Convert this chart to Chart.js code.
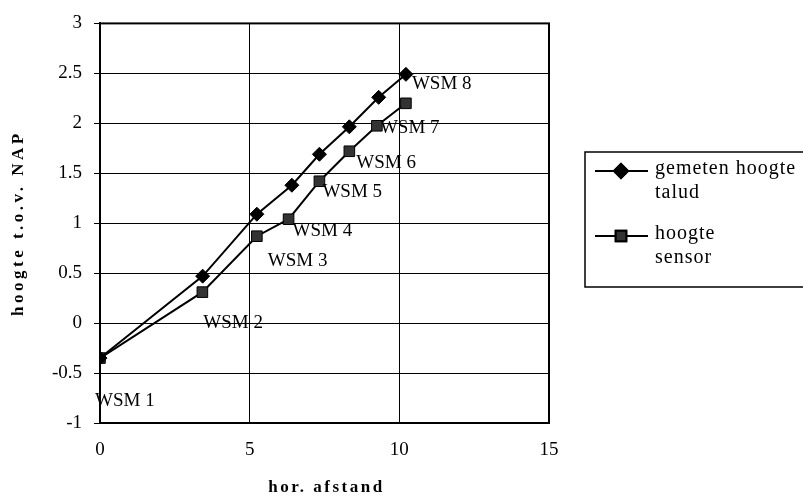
<!DOCTYPE html>
<html>
<head>
<meta charset="utf-8">
<script src="https://cdn.jsdelivr.net/npm/chart.js@4/dist/chart.umd.min.js"></script>
<style>
  html, body { margin: 0; padding: 0; background: #fff; }
  #wrap { width: 803px; height: 499px; position: relative; }
</style>
</head>
<body>
<div id="wrap"><canvas id="plot"></canvas></div>
<script>
// hor. afstand (x) and hoogte t.o.v. NAP (y)
const xTalud = [0, 3.43, 5.24, 6.41, 7.33, 8.33, 9.31, 10.22];
const yTalud = [-0.35, 0.47, 1.09, 1.38, 1.69, 1.965, 2.26, 2.49];
const xSensor = [0, 3.42, 5.24, 6.3, 7.33, 8.33, 9.25, 10.22];
const ySensor = [-0.35, 0.31, 0.87, 1.04, 1.42, 1.72, 1.975, 2.2];
const wsmLabels = ['WSM 1', 'WSM 2', 'WSM 3', 'WSM 4', 'WSM 5', 'WSM 6', 'WSM 7', 'WSM 8'];
const seriesNames = [['gemeten hoogte', 'talud'], ['hoogte', 'sensor']];
const xTitle = 'hor. afstand';
const yTitle = 'hoogte t.o.v. NAP';

const SERIF = '"Liberation Serif", "DejaVu Serif", serif';

// where each WSM label sits relative to its sensor point (px)
const labelShift = [[-5, 43], [1, 31], [11, 25], [4, 12], [3, 11], [7, 12], [3, 2], [6, -19]];

const toPoints = (xs, ys) => xs.map((x, i) => ({x: x, y: ys[i]}));

const extras = {
  id: 'extras',
  afterDraw(chart) {
    const ctx = chart.ctx;
    const a = chart.chartArea;
    ctx.save();
    // plot border
    ctx.strokeStyle = '#000';
    ctx.lineWidth = 2;
    ctx.strokeRect(a.left, a.top, a.right - a.left, a.bottom - a.top);

    // WSM labels at sensor points
    const meta = chart.getDatasetMeta(1);
    ctx.fillStyle = '#000';
    ctx.font = '19px ' + SERIF;
    ctx.textAlign = 'left';
    ctx.textBaseline = 'middle';
    meta.data.forEach((pt, i) => {
      const s = labelShift[i];
      ctx.fillText(wsmLabels[i], pt.x + s[0], pt.y + s[1]);
    });

    // axis titles
    ctx.font = 'bold 17px ' + SERIF;
    ctx.letterSpacing = '2.5px';
    ctx.textAlign = 'center';
    ctx.fillText(xTitle, (a.left + a.right) / 2 + 2, 488);
    ctx.save();
    ctx.translate(19, (a.top + a.bottom) / 2);
    ctx.rotate(-Math.PI / 2);
    ctx.letterSpacing = '3.5px';
    ctx.fillText(yTitle, 0, 0);
    ctx.restore();
    ctx.letterSpacing = '0px';

    // legend
    ctx.lineWidth = 1.5;
    ctx.strokeRect(585, 152, 240, 135);
    ctx.font = '20px ' + SERIF;
    ctx.textAlign = 'left';
    ctx.letterSpacing = '1px';
    const rows = [171, 236];
    rows.forEach((ry, k) => {
      ctx.lineWidth = 2;
      ctx.beginPath();
      ctx.moveTo(595, ry);
      ctx.lineTo(648, ry);
      ctx.stroke();
      const ds = chart.data.datasets[k];
      Chart.helpers.drawPoint(ctx, {
        pointStyle: ds.pointStyle, radius: ds.pointRadius, borderWidth: 1
      }, 621, ry);
      ctx.fillStyle = k === 0 ? '#000' : '#333';
      ctx.strokeStyle = '#000';
      ctx.fill();
      ctx.stroke();
      ctx.fillStyle = '#000';
      ctx.fillText(seriesNames[k][0], 655, ry - 2);
      ctx.fillText(seriesNames[k][1], 655, ry + 22);
    });
    ctx.restore();
  }
};

new Chart(document.getElementById('plot'), {
  type: 'scatter',
  data: {
    datasets: [
      {
        label: seriesNames[0].join(' '),
        data: toPoints(xTalud, yTalud),
        showLine: true,
        borderColor: '#000',
        borderWidth: 2,
        pointStyle: 'rectRot',
        pointRadius: 7,
        pointBackgroundColor: '#000',
        pointBorderColor: '#000',
        pointBorderWidth: 1
      },
      {
        label: seriesNames[1].join(' '),
        data: toPoints(xSensor, ySensor),
        showLine: true,
        borderColor: '#000',
        borderWidth: 2,
        pointStyle: 'rect',
        pointRadius: 7.5,
        pointBackgroundColor: '#333',
        pointBorderColor: '#000',
        pointBorderWidth: 1
      }
    ]
  },
  options: {
    responsive: true,
    maintainAspectRatio: false,
    animation: false,
    layout: { padding: { left: 0, top: 20, right: 254, bottom: 0 } },
    plugins: {
      legend: { display: false },
      tooltip: { enabled: false }
    },
    scales: {
      x: {
        type: 'linear',
        min: 0,
        max: 15,
        afterFit: s => { s.height = 76; },
        ticks: {
          stepSize: 5,
          color: '#000',
          padding: 16,
          font: { family: SERIF, size: 19 }
        },
        grid: { color: '#000', lineWidth: 1, drawTicks: false },
        border: { color: '#000', width: 2 }
      },
      y: {
        type: 'linear',
        min: -1,
        max: 3,
        afterFit: s => { s.width = 100; },
        ticks: {
          stepSize: 0.5,
          color: '#000',
          padding: 12,
          font: { family: SERIF, size: 19 },
          callback: v => String(v)
        },
        grid: { color: '#000', lineWidth: 1, tickLength: 6 },
        border: { color: '#000', width: 2 }
      }
    }
  },
  plugins: [extras]
});
</script>
</body>
</html>
